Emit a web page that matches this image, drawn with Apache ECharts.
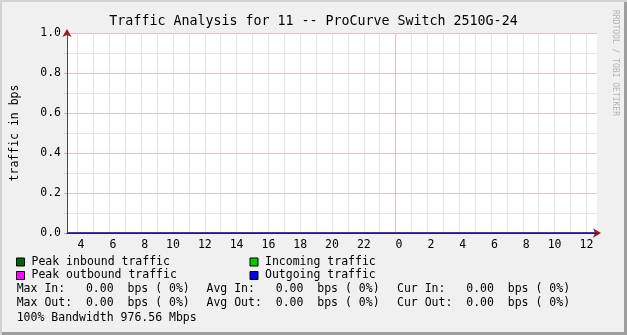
<!DOCTYPE html>
<html><head><meta charset="utf-8">
<script src="https://cdn.jsdelivr.net/npm/echarts@6/dist/echarts.min.js"></script>
<style>
html,body{margin:0;padding:0;background:#f0f0f0;}
#c{width:627px;height:335px;background:#f0f0f0;box-shadow:inset 2px 2px 0 #d2d2d2, inset -3px -3px 0 #9e9e9e;}
</style></head><body><div id="c"></div>
<script>
// ---- data ----
const chartTitle = 'Traffic Analysis for 11 -- ProCurve Switch 2510G-24';
const yAxisTitle = 'traffic in bps';
const watermark = 'RRDTOOL / TOBI OETIKER';
// time in hours since the first midnight shown (24 = next midnight)
const xStart = 3.333, xEnd = 36.667, midnightHour = 24;
const timeHours    = [3.333, 6, 9, 12, 15, 18, 21, 24, 27, 30, 33, 36.667];
const peakInbound  = [0, 0, 0, 0, 0, 0, 0, 0, 0, 0, 0, 0];
const incoming     = [0, 0, 0, 0, 0, 0, 0, 0, 0, 0, 0, 0];
const peakOutbound = [0, 0, 0, 0, 0, 0, 0, 0, 0, 0, 0, 0];
const outgoing     = [0, 0, 0, 0, 0, 0, 0, 0, 0, 0, 0, 0];
const yMin = 0, yMax = 1.0, yStepMinor = 0.1, yStepMajor = 0.2;
// stats: [max, avg, cur] in bps and percent
const inStats  = [0.00, 0.00, 0.00], inPct  = [0, 0, 0];
const outStats = [0.00, 0.00, 0.00], outPct = [0, 0, 0];
const bandwidthText = '100% Bandwidth 976.56 Mbps';

// ---- styles ----
const MONO = '"DejaVu Sans Mono", monospace';
const FS = 11.5;
const gridMajor = '#e6c0c0', gridMinor = '#e4e4e4';

const pairs = arr => timeHours.map((t, i) => [t, arr[i]]);
const fmtStat = (label, v, p) => label + ' '.repeat(Math.max(1, 10 - label.length - v.toFixed(2).length + 4)) + v.toFixed(2) + '  bps (' + String(p).padStart(2, ' ') + '%)';

const chart = echarts.init(document.getElementById('c'), null, {renderer: 'canvas'});

const grid = {left: 67, right: 30, top: 33, bottom: 102, show: true, backgroundColor: '#ffffff', borderWidth: 0,
  containLabel: false, outerBoundsMode: 'none'};

const baseX = {type: 'value', min: xStart, max: xEnd, gridIndex: 0, position: 'bottom',
  axisLabel: {show: false}, axisTick: {show: false}, splitLine: {show: false}};
const baseY = {type: 'value', min: yMin, max: yMax, interval: yStepMajor, gridIndex: 0, position: 'left',
  axisLabel: {show: false}, axisTick: {show: false}, splitLine: {show: false}};

const statCols = [16.7, 206.5, 397];
const graphics = [
  {type: 'text', x: 615, y: 63, rotation: -Math.PI / 2, silent: true,
   style: {text: watermark, align: 'center', verticalAlign: 'middle', font: '8px ' + MONO, fill: '#b4b4b4'}},
  {type: 'text', x: 16.7, y: 318, silent: true,
   style: {text: bandwidthText, verticalAlign: 'middle', font: FS + 'px ' + MONO, fill: '#000'}}
];
['Max', 'Avg', 'Cur'].forEach((k, i) => {
  graphics.push({type: 'text', x: statCols[i], y: 289.5, silent: true,
    style: {text: fmtStat(k + ' In:', inStats[i], inPct[i]), verticalAlign: 'middle', font: FS + 'px ' + MONO, fill: '#000'}});
  graphics.push({type: 'text', x: statCols[i], y: 303, silent: true,
    style: {text: fmtStat(k + ' Out:', outStats[i], outPct[i]), verticalAlign: 'middle', font: FS + 'px ' + MONO, fill: '#000'}});
});

const legendCommon = {orient: 'vertical', top: 251, itemWidth: 8, itemHeight: 8, itemGap: 1.5, icon: 'rect',
  selectedMode: false, itemStyle: {borderColor: '#000', borderWidth: 1},
  textStyle: {fontFamily: MONO, fontSize: FS, color: '#000', padding: [0, 0, 0, 2]}};

const option = {
  backgroundColor: 'transparent',
  animation: false,
  title: {text: chartTitle, left: 'center', top: 10,
    textStyle: {fontFamily: MONO, fontSize: 13.3, fontWeight: 'normal', color: '#000'}},
  grid: grid,
  legend: [
    Object.assign({}, legendCommon, {left: 11, data: ['Peak inbound traffic', 'Peak outbound traffic']}),
    Object.assign({}, legendCommon, {left: 244.5, data: ['Incoming traffic', 'Outgoing traffic']})
  ],
  xAxis: [
    {type: 'value', min: xStart, max: xEnd, splitNumber: 33, position: 'bottom', z: 0,
     axisLine: {show: false}, axisTick: {show: false},
     axisLabel: {margin: 6, fontFamily: MONO, fontSize: FS, color: '#000',
       formatter: v => {
         const r = Math.round(v);
         if (Math.abs(v - r) > 1e-6 || r % 2 !== 0) return '';
         return String(r % 24).padStart(2, ' ');
       }},
     splitLine: {show: true, showMinLine: false, showMaxLine: false, lineStyle: {color: gridMinor, width: 1}}},
    Object.assign({}, baseX, {z: 1, axisLine: {show: true, lineStyle: {color: '#a01818', width: 1},
      symbol: ['none', 'arrow'], symbolSize: [7, 8], symbolOffset: [0, 4]}}),
    Object.assign({}, baseX, {z: 6, axisLine: {show: true, lineStyle: {color: '#231d63', width: 1}}})
  ],
  yAxis: [
    // minor grid (every 0.1)
    {type: 'value', min: yMin, max: yMax, interval: yStepMinor, position: 'left', z: 0,
     axisLine: {show: false},
     axisTick: {show: true, length: 3, lineStyle: {color: '#d4d4d4'}},
     axisLabel: {show: false},
     splitLine: {show: true, lineStyle: {color: gridMinor, width: 1}}},
    // major grid (every 0.2) with labels
    {type: 'value', min: yMin, max: yMax, interval: yStepMajor, position: 'left', z: 0.5,
     name: yAxisTitle, nameLocation: 'middle', nameGap: 46, nameRotate: 90, nameMoveOverlap: false,
     nameTextStyle: {fontFamily: MONO, fontSize: FS, color: '#000'},
     axisLine: {show: false},
     axisTick: {show: true, length: 3, lineStyle: {color: '#d9a4a4'}},
     axisLabel: {margin: 6, fontFamily: MONO, fontSize: FS, color: '#000', formatter: v => v.toFixed(1)},
     splitLine: {show: true, lineStyle: {color: gridMajor, width: 1}}},
    Object.assign({}, baseY, {z: 1, axisLine: {show: true, lineStyle: {color: '#a01818', width: 1},
      symbol: ['none', 'arrow'], symbolSize: [7, 8], symbolOffset: [0, 4]}}),
    Object.assign({}, baseY, {z: 6, axisLine: {show: true, lineStyle: {color: '#4a4a4a', width: 1}}})
  ],
  series: [
    {name: 'Incoming traffic', type: 'line', data: pairs(incoming), showSymbol: false, z: 3,
     itemStyle: {color: '#00cc00'}, lineStyle: {color: '#00cc00', width: 1}, areaStyle: {color: '#00cc00', opacity: 1},
     markLine: {silent: true, symbol: 'none', animation: false, label: {show: false}, z: 3,
       lineStyle: {color: gridMajor, type: 'solid', width: 1}, emphasis: {disabled: true},
       data: [{xAxis: midnightHour}]}},
    {name: 'Peak inbound traffic', type: 'line', data: pairs(peakInbound), showSymbol: false, z: 3,
     itemStyle: {color: '#006600'}, lineStyle: {color: '#006600', width: 1}},
    {name: 'Peak outbound traffic', type: 'line', data: pairs(peakOutbound), showSymbol: false, z: 3,
     itemStyle: {color: '#ff00ff'}, lineStyle: {color: '#ff00ff', width: 1}},
    {name: 'Outgoing traffic', type: 'line', data: pairs(outgoing), showSymbol: false, z: 3,
     itemStyle: {color: '#0000ff'}, lineStyle: {color: '#0000ff', width: 1}}
  ],
  graphic: graphics
};
chart.setOption(option);
</script></body></html>
